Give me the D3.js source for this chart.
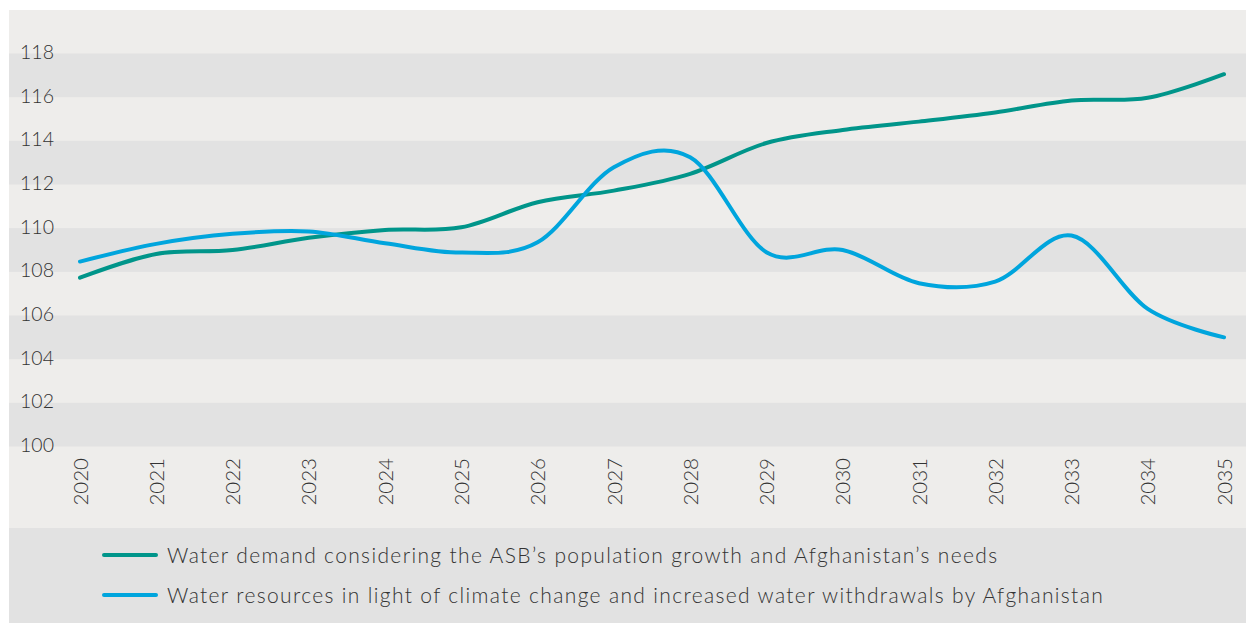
<!DOCTYPE html>
<html><head><meta charset="utf-8">
<script src="https://cdn.jsdelivr.net/npm/d3@7/dist/d3.min.js"></script>
<style>
html,body{margin:0;padding:0;background:#fff;}
svg{display:block;font-family:Lato,"Noto Sans",sans-serif;}
</style></head>
<body>
<svg id="c" width="1246" height="623"></svg>
<script>
const years = [2020,2021,2022,2023,2024,2025,2026,2027,2028,2029,2030,2031,2032,2033,2034,2035];
const demand = [107.73,108.82,109.0,109.56,109.92,110.04,111.19,111.72,112.49,113.9,114.5,114.88,115.3,115.85,115.97,117.05];
const resources = [108.47,109.28,109.74,109.85,109.31,108.88,109.35,112.79,113.25,108.9,109.0,107.48,107.55,109.66,106.3,105.0];
const yTicks = [100,102,104,106,108,110,112,114,116,118];
const seriesNames = ["Water demand considering the ASB\u2019s population growth and Afghanistan\u2019s needs",
                     "Water resources in light of climate change and increased water withdrawals by Afghanistan"];
const seriesColors = ["#00958a","#00a5dd"];

const svg = d3.select("#c");
const x = d3.scaleLinear().domain([2020,2035]).range([80,1224]);
const y = d3.scaleLinear().domain([100,118]).range([446.5,53.5]);

// panel backgrounds
svg.append("rect").attr("x",9).attr("y",10).attr("width",1237).attr("height",518).attr("fill","#eeedeb");
svg.append("rect").attr("x",9).attr("y",528).attr("width",1237).attr("height",95).attr("fill","#e2e2e2");

// alternating bands
const bands = [[100,102],[104,106],[108,110],[112,114],[116,118]];
svg.append("g").selectAll("rect").data(bands).join("rect")
  .attr("x",9).attr("width",1237)
  .attr("y",d=>y(d[1])).attr("height",d=>y(d[0])-y(d[1]))
  .attr("fill","#e2e2e2");

// y axis
const yAxis = d3.axisLeft(y).tickValues(yTicks).tickSize(0).tickPadding(0).tickFormat(d3.format("d"));
const gy = svg.append("g").attr("transform","translate(54,0)").call(yAxis);
gy.select(".domain").remove();
gy.selectAll("text").attr("font-size","19.5px").attr("font-weight",300).attr("fill","#333")
  .attr("font-family","Lato, sans-serif").attr("dy","0.3em").attr("y",-1);

// x axis
const xAxis = d3.axisBottom(x).tickValues(years).tickSize(0).tickPadding(0).tickFormat(d3.format("d"));
const gx = svg.append("g").attr("transform","translate(0,458)").call(xAxis);
gx.select(".domain").remove();
gx.selectAll("text").attr("font-size","20.5px").attr("font-weight",300).attr("fill","#333")
  .attr("font-family","Lato, sans-serif")
  .attr("text-anchor","end").attr("transform","rotate(-90)")
  .attr("x",0).attr("y",0).attr("dy","0.35em");

// lines
const line = d3.line().x((d,i)=>x(years[i])).y(d=>y(d)).curve(d3.curveCardinal.tension(0));
[demand, resources].forEach((s,k)=>{
  svg.append("path").datum(s).attr("d",line).attr("fill","none")
    .attr("stroke",seriesColors[k]).attr("stroke-width",4).attr("stroke-linecap","round").attr("stroke-linejoin","round");
});

// legend
const lg = svg.append("g");
const ly = [555,595];
seriesNames.forEach((n,k)=>{
  lg.append("line").attr("x1",104).attr("x2",156).attr("y1",ly[k]).attr("y2",ly[k])
    .attr("stroke",seriesColors[k]).attr("stroke-width",4).attr("stroke-linecap","round");
  lg.append("text").attr("x",167).attr("y",ly[k]+1).attr("dy","0.35em")
    .attr("font-size","21px").attr("font-weight",300).attr("fill","#333")
    .attr("letter-spacing","1.35px").text(n);
});
</script>
</body></html>
